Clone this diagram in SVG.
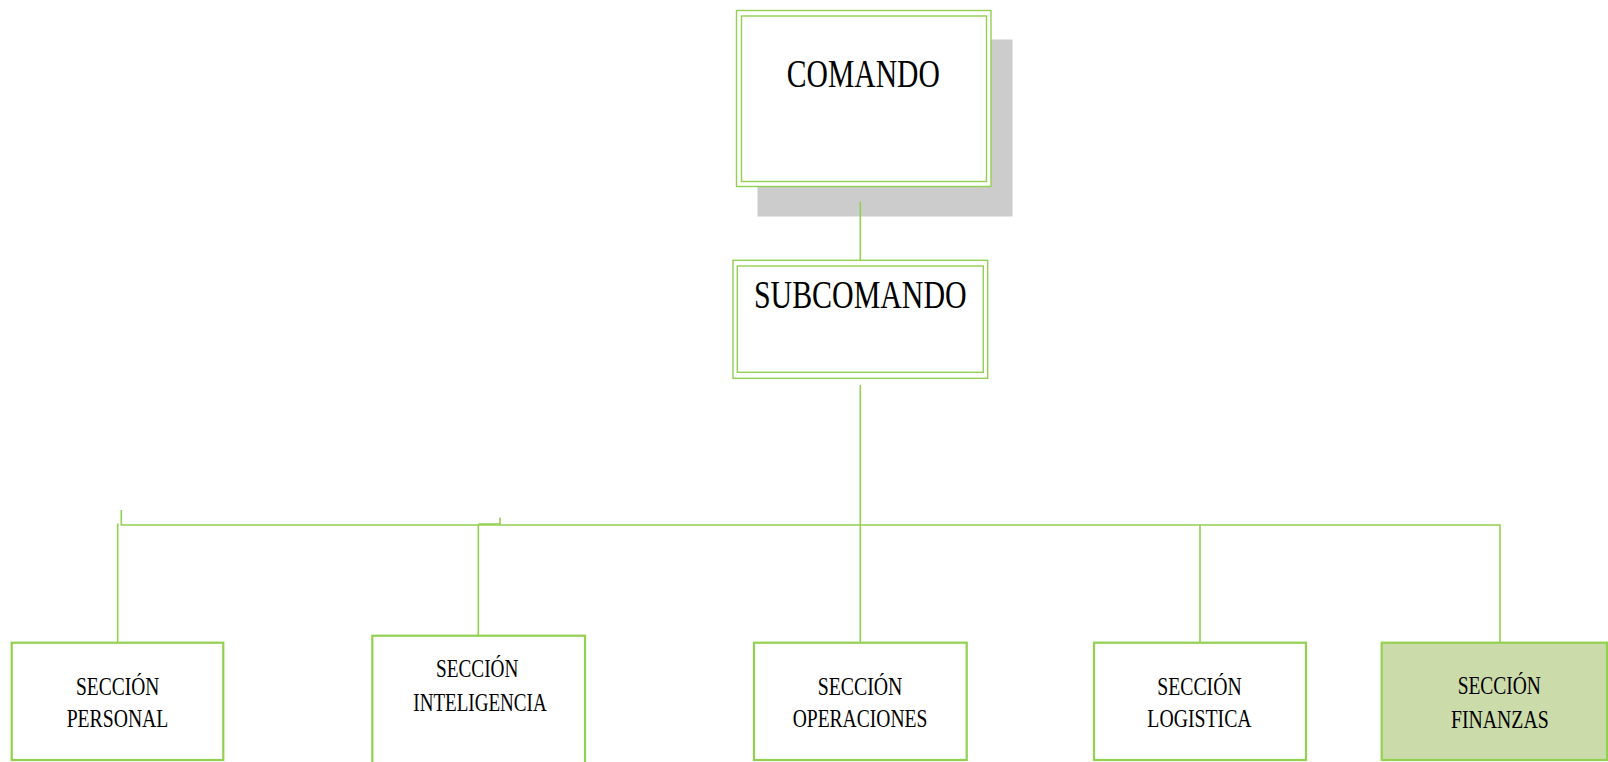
<svg xmlns="http://www.w3.org/2000/svg" width="1608" height="762" viewBox="0 0 1608 762">
<style>
.dbl{fill:#ffffff;stroke:#92D050;stroke-width:1.4}
.dbl2{fill:none;stroke:#92D050;stroke-width:1.4}
.box{fill:#ffffff;stroke:#92D050;stroke-width:2.2}
.fin{fill:#CCDBAA;stroke:#92D050;stroke-width:2.2}
.con{fill:none;stroke:#92D050;stroke-width:1.6}
.big{font-family:"Liberation Serif","Times New Roman",serif;font-size:40px;fill:#000;text-anchor:middle}
.sm{font-family:"Liberation Serif","Times New Roman",serif;font-size:26px;fill:#000;text-anchor:middle}
</style>
<rect width="1608" height="762" fill="#ffffff"/>
<g id="comando">
<rect x="757.5" y="39.5" width="255" height="177" fill="#CCCCCC"/>
<rect class="dbl" x="736.5" y="10.5" width="254.5" height="176"/>
<rect class="dbl2" x="741.5" y="16" width="245" height="165.5"/>
<text class="big" x="863.3" y="86.5" textLength="153" lengthAdjust="spacingAndGlyphs">COMANDO</text>
</g>
<g id="connectors">
<line class="con" x1="860.3" y1="201.5" x2="860.3" y2="260"/>
<line class="con" x1="860.3" y1="385" x2="860.3" y2="642.5"/>
<polyline class="con" points="121.3,510 121.3,525 1500,525 1500,642.5"/>
<line class="con" x1="117.7" y1="523.5" x2="117.7" y2="642.5"/>
<line class="con" x1="478.3" y1="524" x2="478.3" y2="635.5"/>
<polyline class="con" points="478.3,524 500,524 500,517.5"/>
<line class="con" x1="1200" y1="525" x2="1200" y2="642.5"/>
</g>
<g id="subcomando">
<rect class="dbl" x="733" y="260.3" width="254.7" height="118"/>
<rect class="dbl2" x="737.3" y="266" width="246" height="106.3"/>
<text class="big" x="860.3" y="307.5" textLength="212.7" lengthAdjust="spacingAndGlyphs">SUBCOMANDO</text>
</g>
<g id="personal">
<rect class="box" x="11.7" y="642.7" width="211.6" height="117.3"/>
<text class="sm" x="117.7" y="694.5" textLength="83.3" lengthAdjust="spacingAndGlyphs">SECCIÓN</text>
<text class="sm" x="117.5" y="726.5" textLength="101.7" lengthAdjust="spacingAndGlyphs">PERSONAL</text>
</g>
<g id="inteligencia">
<rect class="box" x="372.3" y="635.7" width="212.7" height="130"/>
<text class="sm" x="477.2" y="676.5" textLength="82.3" lengthAdjust="spacingAndGlyphs">SECCIÓN</text>
<text class="sm" x="480" y="711" textLength="133.3" lengthAdjust="spacingAndGlyphs">INTELIGENCIA</text>
</g>
<g id="operaciones">
<rect class="box" x="754" y="642.7" width="212.7" height="117.3"/>
<text class="sm" x="860" y="694.5" textLength="84.7" lengthAdjust="spacingAndGlyphs">SECCIÓN</text>
<text class="sm" x="860" y="727" textLength="134.7" lengthAdjust="spacingAndGlyphs">OPERACIONES</text>
</g>
<g id="logistica">
<rect class="box" x="1094" y="642.7" width="212" height="117.3"/>
<text class="sm" x="1199.5" y="694.5" textLength="84.3" lengthAdjust="spacingAndGlyphs">SECCIÓN</text>
<text class="sm" x="1199.5" y="727" textLength="104.3" lengthAdjust="spacingAndGlyphs">LOGISTICA</text>
</g>
<g id="finanzas">
<rect class="fin" x="1381.7" y="642.7" width="225.3" height="117.3"/>
<text class="sm" x="1499.3" y="694" textLength="83.3" lengthAdjust="spacingAndGlyphs">SECCIÓN</text>
<text class="sm" x="1499.8" y="727.5" textLength="97.7" lengthAdjust="spacingAndGlyphs">FINANZAS</text>
</g>
</svg>
